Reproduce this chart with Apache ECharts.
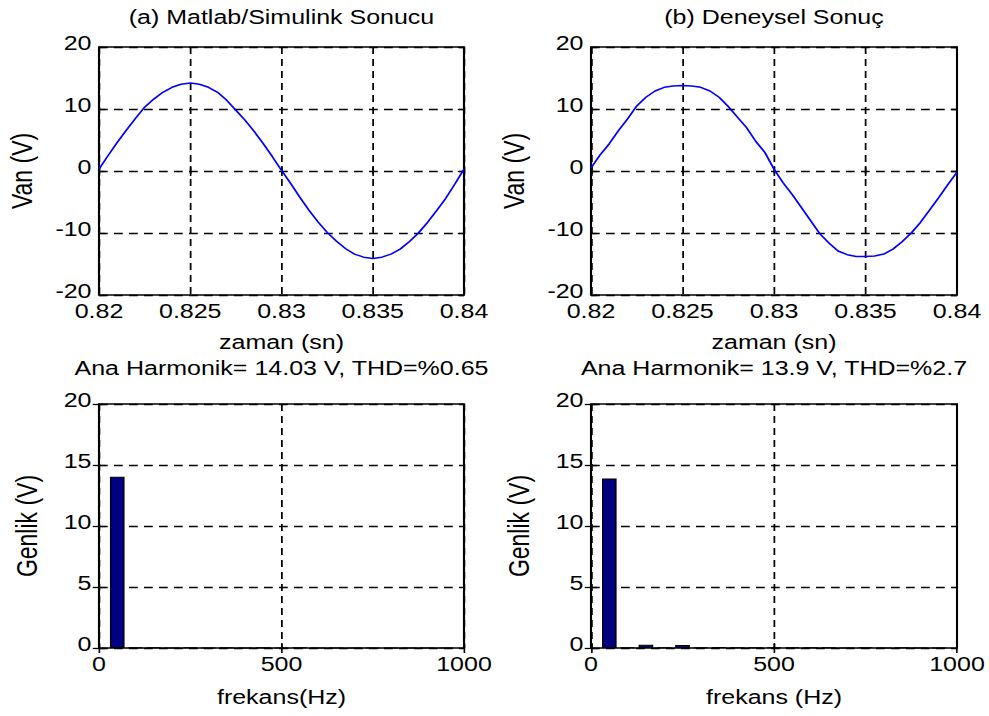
<!DOCTYPE html>
<html>
<head>
<meta charset="utf-8">
<script src="https://cdn.jsdelivr.net/npm/echarts@6/dist/echarts.min.js"></script>
<style>
  html, body { margin: 0; padding: 0; background: #fff; overflow: hidden; }
  /* the figure is laid out narrow and widened horizontally, MATLAB-export style */
  #chart { width: 791.2px; height: 716px; transform: scaleX(1.25); transform-origin: 0 0; }
</style>
</head>
<body>
<div id="chart"></div>
<script>
// Time axis of the waveform panels (s)
const timeSec = [0.82, 0.8205, 0.821, 0.8215, 0.822, 0.8225, 0.823, 0.8235, 0.824, 0.8245,
  0.825, 0.8255, 0.826, 0.8265, 0.827, 0.8275, 0.828, 0.8285, 0.829, 0.8295,
  0.83, 0.8305, 0.831, 0.8315, 0.832, 0.8325, 0.833, 0.8335, 0.834, 0.8345,
  0.835, 0.8355, 0.836, 0.8365, 0.837, 0.8375, 0.838, 0.8385, 0.839, 0.8395, 0.84];

// Phase voltage Van (V): simulation
const vanSim = [0.3, 2.5, 4.6, 6.6, 8.5, 10.3, 11.6, 12.7, 13.5, 14.0,
  14.2, 14.0, 13.5, 12.7, 11.4, 9.8, 8.2, 6.4, 4.4, 2.3,
  0.1, -2.0, -4.2, -6.3, -8.2, -9.9, -11.3, -12.5, -13.4, -13.9,
  -14.1, -13.9, -13.4, -12.6, -11.4, -10.0, -8.3, -6.4, -4.4, -2.1, 0.3];

// Phase voltage Van (V): experiment
const vanExp = [0.5, 2.6, 4.4, 6.5, 8.4, 10.5, 11.9, 12.9, 13.5, 13.7,
  13.8, 13.7, 13.5, 12.9, 11.9, 10.4, 8.7, 7.0, 4.8, 3.0,
  0.3, -1.9, -3.8, -5.9, -8.0, -10.1, -11.6, -12.9, -13.5, -13.8,
  -13.8, -13.7, -13.4, -12.6, -11.4, -10.0, -8.3, -6.3, -4.3, -2.2, -0.2];

// Harmonic spectrum (Hz, V)
const freqHz = [50, 100, 150, 200, 250, 300, 350, 400, 450, 500,
  550, 600, 650, 700, 750, 800, 850, 900, 950];
const ampSim = [14.03, 0.03, 0.04, 0.02, 0.05, 0.02, 0.04, 0.02, 0.03, 0.02,
  0.03, 0.02, 0.02, 0.02, 0.02, 0.02, 0.02, 0.02, 0.02];
const ampExp = [13.9, 0.05, 0.26, 0.04, 0.24, 0.03, 0.08, 0.03, 0.06, 0.03,
  0.05, 0.03, 0.04, 0.02, 0.03, 0.02, 0.03, 0.02, 0.02];

// Panel captions and axis names
const panelTitles = ['(a) Matlab/Simulink Sonucu', '(b) Deneysel Sonuç',
  'Ana Harmonik= 14.03 V, THD=%0.65', 'Ana Harmonik= 13.9 V, THD=%2.7'];
const xNames = ['zaman (sn)', 'zaman (sn)', 'frekans(Hz)', 'frekans (Hz)'];
const yNames = ['Van (V)', 'Van (V)', 'Genlik (V)', 'Genlik (V)'];

const FONT = "'Liberation Sans', Arial, sans-serif";
const FS = 20;

const grids = [
  { left: 79.2, top: 47, width: 292, height: 248 },
  { left: 472.8, top: 47, width: 292.8, height: 248 },
  { left: 79.2, top: 404, width: 292, height: 244 },
  { left: 472.8, top: 404, width: 292.8, height: 244 }
].map(g => Object.assign({ show: true, borderColor: '#000', borderWidth: 1.7, backgroundColor: '#fff' }, g));

const gridLine = { show: true, lineStyle: { color: '#000', width: 1.4, type: [7, 5] } };
const tick = { show: true, inside: true, length: 5, lineStyle: { color: '#000', width: 1.3 } };
const txt = { color: '#000', fontFamily: FONT, fontSize: FS };

const xRanges = [
  { min: 0.82, max: 0.84, interval: 0.005 },
  { min: 0.82, max: 0.84, interval: 0.005 },
  { min: 0, max: 1000, interval: 500 },
  { min: 0, max: 1000, interval: 500 }
];
const yRanges = [
  { min: -20, max: 20, interval: 10 },
  { min: -20, max: 20, interval: 10 },
  { min: 0, max: 20, interval: 5 },
  { min: 0, max: 20, interval: 5 }
];

const xAxis = [], yAxis = [];
for (let i = 0; i < 4; i++) {
  const top = i < 2;
  xAxis.push(Object.assign({
    type: 'value', gridIndex: i, position: 'bottom',
    axisLine: { show: false }, axisTick: tick, splitLine: gridLine,
    axisLabel: Object.assign({ margin: 6, showMinLabel: true, showMaxLabel: true,
      formatter: v => String(+(+v).toFixed(4)) }, txt),
    name: xNames[i], nameLocation: 'middle', nameGap: top ? 37 : 39, nameTextStyle: txt
  }, xRanges[i]));
  yAxis.push(Object.assign({
    type: 'value', gridIndex: i, position: 'left',
    axisLine: { show: false }, axisTick: tick, splitLine: gridLine,
    // labels sit slightly above their tick, as in MATLAB output
    axisLabel: Object.assign({ margin: 6, verticalAlign: 'bottom', lineHeight: 8 }, txt),
    name: yNames[i], nameLocation: 'middle', nameGap: top ? 50 : 46,
    nameTextStyle: Object.assign({}, txt, { fontSize: 23 })
  }, yRanges[i]));
}
// mirrored tick marks on the top and right edges of each box
for (let i = 0; i < 4; i++) {
  xAxis.push(Object.assign({
    type: 'value', gridIndex: i, position: 'top',
    axisLine: { show: false }, axisTick: tick, splitLine: { show: false }, axisLabel: { show: false }
  }, xRanges[i]));
  yAxis.push(Object.assign({
    type: 'value', gridIndex: i, position: 'right',
    axisLine: { show: false }, axisTick: tick, splitLine: { show: false }, axisLabel: { show: false }
  }, yRanges[i]));
}

const titleCenters = [225.2, 619.2, 225.2, 619.2];
const titleTops = [7, 7, 358, 358];
const title = panelTitles.map((t, i) => ({
  text: t, left: titleCenters[i], top: titleTops[i], textAlign: 'center', padding: 0,
  textStyle: Object.assign({ fontWeight: 'normal' }, txt)
}));

const lineSeries = (vals, idx) => ({
  type: 'line', xAxisIndex: idx, yAxisIndex: idx, showSymbol: false, symbol: 'none',
  data: timeSec.map((t, k) => [t, vals[k]]),
  lineStyle: { color: '#0000ff', width: 1.5 }, z: 3
});
const barSeries = (vals, idx) => ({
  type: 'bar', xAxisIndex: idx, yAxisIndex: idx, barWidth: 11.7,
  data: freqHz.map((f, k) => [f, vals[k]]),
  itemStyle: { color: '#000080', borderColor: '#000', borderWidth: 1 }, z: 3
});

const chart = echarts.init(document.getElementById('chart'), null, { renderer: 'svg' });
chart.setOption({
  animation: false,
  backgroundColor: '#fff',
  title: title,
  grid: grids,
  xAxis: xAxis,
  yAxis: yAxis,
  series: [
    lineSeries(vanSim, 0),
    lineSeries(vanExp, 1),
    barSeries(ampSim, 2),
    barSeries(ampExp, 3)
  ]
});
</script>
</body>
</html>
